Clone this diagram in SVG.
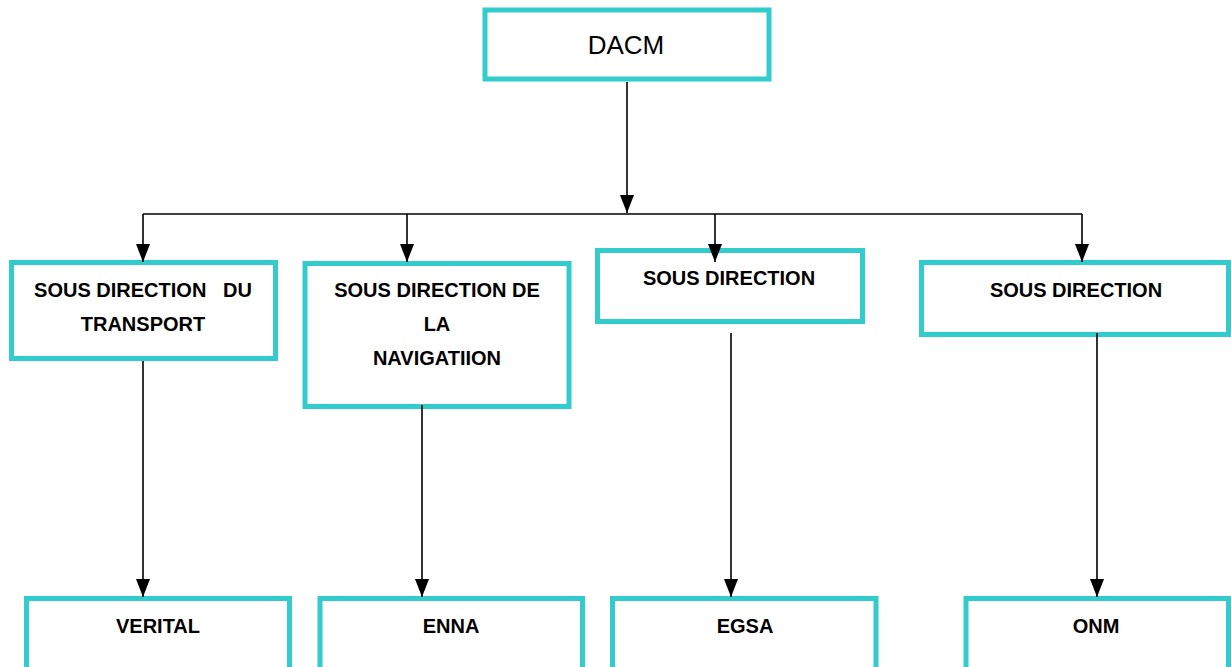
<svg xmlns="http://www.w3.org/2000/svg" width="1231" height="667" viewBox="0 0 1231 667">
<style>
.box{fill:#fff;stroke:#33CCCC;stroke-width:5}
.lbl{font-family:"Liberation Sans",Arial,sans-serif;font-weight:bold;font-size:20px;fill:#000;text-anchor:middle}
.top{font-family:"Liberation Sans",Arial,sans-serif;font-size:26px;fill:#000;text-anchor:middle}
.ln{stroke:#000;stroke-width:1.6;fill:none}
</style>
<defs>
<marker id="ad" markerUnits="userSpaceOnUse" markerWidth="18" markerHeight="14" viewBox="0 0 18 14" refX="18" refY="7" orient="auto">
<path d="M0,0 L18,7 L0,14 Z" fill="#000"/>
</marker>
</defs>
<g id="dacm">
<rect class="box" x="485" y="10" width="284" height="69"/>
<text class="top" x="626" y="54">DACM</text>
</g>
<g id="sd-transport">
<rect class="box" x="11.5" y="262.5" width="264" height="96"/>
<text class="lbl" x="143" y="297" xml:space="preserve">SOUS DIRECTION   DU</text>
<text class="lbl" x="143" y="331">TRANSPORT</text>
</g>
<g id="sd-navigation">
<rect class="box" x="305" y="263.5" width="264" height="143"/>
<text class="lbl" x="437" y="297">SOUS DIRECTION DE</text>
<text class="lbl" x="437" y="331">LA</text>
<text class="lbl" x="437" y="365">NAVIGATIION</text>
</g>
<g id="sd-3">
<rect class="box" x="597.5" y="250.5" width="265" height="71"/>
<text class="lbl" x="729" y="285">SOUS DIRECTION</text>
</g>
<g id="sd-4">
<rect class="box" x="921.5" y="262.5" width="307" height="72"/>
<text class="lbl" x="1076" y="297">SOUS DIRECTION</text>
</g>
<g id="verital">
<rect class="box" x="26.5" y="598.5" width="263" height="100"/>
<text class="lbl" x="158" y="633">VERITAL</text>
</g>
<g id="enna">
<rect class="box" x="320" y="598.5" width="262.5" height="100"/>
<text class="lbl" x="451" y="633">ENNA</text>
</g>
<g id="egsa">
<rect class="box" x="612.5" y="598.5" width="263.5" height="100"/>
<text class="lbl" x="745" y="633">EGSA</text>
</g>
<g id="onm">
<rect class="box" x="966" y="598.5" width="262.5" height="100"/>
<text class="lbl" x="1096" y="633">ONM</text>
</g>
<g id="connectors">
<path class="ln" d="M627,82 V213" marker-end="url(#ad)"/>
<path class="ln" d="M143,214 H1082"/>
<path class="ln" d="M143,214 V262" marker-end="url(#ad)"/>
<path class="ln" d="M407,214 V262" marker-end="url(#ad)"/>
<path class="ln" d="M715,214 V262" marker-end="url(#ad)"/>
<path class="ln" d="M1082,214 V262" marker-end="url(#ad)"/>
<path class="ln" d="M143,361 V597" marker-end="url(#ad)"/>
<path class="ln" d="M422,405 V597" marker-end="url(#ad)"/>
<path class="ln" d="M731,333 V597" marker-end="url(#ad)"/>
<path class="ln" d="M1097,333 V597" marker-end="url(#ad)"/>
</g>
</svg>
